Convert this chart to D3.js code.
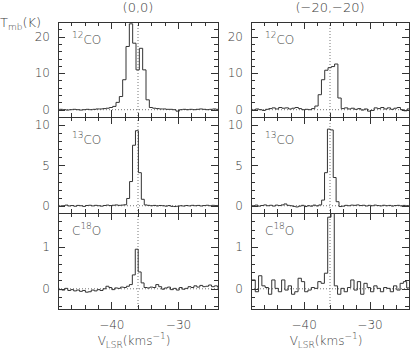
<!DOCTYPE html>
<html>
<head>
<meta charset="utf-8">
<script src="https://cdn.jsdelivr.net/npm/d3@7"></script>
<style>
  html, body { margin: 0; padding: 0; background: #fff; }
  svg { display: block; }
</style>
</head>
<body>
<div id="chart"></div>
<script>
// ---- data -----------------------------------------------------------------
// velocity axis (km/s) and the systemic velocity marked by the dotted line
var velDomain = [-48, -24];
var velMajor = [-40, -30];
var systemicVel = -36;

var positionLabels = ["(0,0)", "(\u221220,\u221220)"];
// species label parts: [before, superscript, after]
var speciesLabels = [["", "12", "CO"], ["", "13", "CO"], ["C", "18", "O"]];

var rowDomains = [[-2, 24], [-0.9, 11], [-0.48, 1.8]];
var rowMajorTicks = [[0, 10, 20], [0, 5, 10], [0, 1]];
var rowMinorStep = [2, 1, 0.2];

// channel start velocity and width per spectrum [col][row]
var chanStart = [[-48.3, -48.26, -48.29], [-48.3, -48.27, -48.35]];
var chanWidth = [[0.5, 0.44, 0.44], [0.5, 0.44, 0.5]];

// Tmb (K) per channel, position (0,0)
var co12_00 = [0.0, 0.1, 0.0, -0.1, 0.0, 0.1, 0.0, -0.1, 0.0, 0.1, 0.0, 0.1, 0.2,
  0.2, 0.3, 0.4, 0.6, 0.9, 2.0,
  3.6, 8.2, 17.3, 23.5, 18.2, 10.9, 16.8, 10.9, 2.7, 0.6,
  0.4, 0.3, 0.2, 0.2, 0.1, 0.1, 0.0, -0.4, 0.0, 0.1, 0.0, 0.1, 0.0, 0.1, 0.2, 0.1, 0.0, 0.1, 0.2, 0.1];
var co13_00 = [0.05, -0.05, 0.0, 0.08, -0.03, 0.02, -0.06, 0.04, 0.0, -0.08, 0.03, 0.06,
  -0.02, 0.05, 0.0, -0.05, 0.03, 0.08, 0.02, 0.06, 0.1, 0.05, 0.08, 0.12,
  0.9, 3.0, 7.5, 9.3, 4.1, 0.8,
  0.1, 0.05, 0.0, 0.04, -0.02, 0.03, 0.0, -0.05, 0.02, -0.08, -0.1, -0.06, 0.0,
  -0.04, 0.03, -0.02, 0.05, 0.0, 0.04, -0.03, 0.02, 0.06, 0.0, 0.05, 0.02, 0.04];
var c18o_00 = [0.02, -0.02, -0.03, 0.01, -0.04, -0.02, -0.05, -0.03, -0.06, -0.04, -0.08, -0.07, -0.03,
  -0.05, -0.02, -0.04, 0.0, 0.06, 0.03, -0.02, 0.02, 0.01, 0.04, 0.03, 0.06, 0.1,
  0.33, 0.94, 0.40, 0.14,
  0.03, 0.02, 0.04, 0.03, 0.10, 0.05, -0.01, 0.02, 0.04, -0.02, 0.01, -0.03, 0.03,
  -0.01, 0.01, 0.05, 0.03, 0.07, 0.04, 0.08, 0.05, 0.06, 0.09, 0.05, 0.07, 0.04];

// Tmb (K) per channel, position (-20,-20)
var co12_2020 = [0.1, -0.1, 0.2, 0.0, -0.2, 0.1, 0.3, 0.5, 0.2, 0.6, 0.4, 0.5, 0.2, 0.4, 0.6, 0.3, 0.0, 0.1, 0.0,
  0.3, 1.0, 4.1, 8.2, 10.8, 11.5, 11.8, 12.5, 3.2, 0.3,
  0.5, 0.2, 0.4, 0.1, 0.3, -0.1, 0.2, -0.4, -0.2, 0.5, 0.3, 0.6, 0.2, 0.5, 0.1, 0.4, 0.6, 0.0, -0.3, 0.2];
var co13_2020 = [0.05, 0.0, 0.08, -0.05, 0.03, 0.1, 0.0, 0.06, -0.04, 0.08, 0.02, 0.1, 0.22,
  0.05, 0.0, -0.08, -0.15, -0.05, 0.05, -0.1, 0.0, -0.05, 0.08, -0.02, 0.1,
  0.7, 4.1, 9.5, 9.4, 3.5, 0.5, -0.1,
  -0.05, 0.05, 0.0, 0.08, 0.05, 0.1, 0.02, 0.06, -0.03, 0.05, 0.0, 0.08,
  0.02, -0.02, 0.06, 0.0, 0.04, -0.04, 0.02, 0.05, -0.02, 0.04, 0.0, 0.03];
var c18o_2020 = [0.21, 0.21, -0.07, 0.31, 0.07, 0.03, -0.13, 0.21, 0.01, -0.07, 0.21, -0.03,
  0.07, -0.13, -0.07, 0.25, 0.17, -0.07, -0.03, 0.03, 0.01, 0.17, 0.13,
  0.37, 1.7, 2.5,
  0.07, -0.13, 0.01, -0.07, 0.03, 0.21, -0.03, 0.17, -0.13, 0.13, 0.03, -0.07,
  0.07, 0.01, -0.07, 0.03, 0.01, -0.07, 0.07, -0.03, 0.13, 0.17, 0.02];

var spectra = [[co12_00, co13_00, c18o_00], [co12_2020, co13_2020, c18o_2020]];

// ---- layout ---------------------------------------------------------------
var W = 411, H = 350;
var cols = [[58, 218], [251, 409]];
var rows = [[22, 117], [117, 213], [213, 309]];
var labelBase = [44, 144, 235];
var INK = "#333", TXT = "#3a3a3a", FONT = "'DejaVu Sans', sans-serif";

var svg = d3.select("#chart").append("svg").attr("width", W).attr("height", H)
  .attr("font-family", FONT).attr("font-weight", 200);

function styleAxis(g, showText) {
  g.select(".domain").remove();
  g.selectAll(".tick line").attr("stroke", INK).attr("shape-rendering", "crispEdges");
  g.selectAll(".tick text").attr("fill", TXT).attr("font-size", 12)
    .attr("font-family", FONT).attr("font-weight", 200);
  if (!showText) g.selectAll(".tick text").remove();
}

cols.forEach(function (cx, c) {
  var x = d3.scaleLinear().domain(velDomain).range(cx);
  var velMinor = d3.range(velDomain[0], velDomain[1] + 0.001, 2);

  rows.forEach(function (ry, r) {
    var y = d3.scaleLinear().domain(rowDomains[r]).range([ry[1], ry[0]]);
    var p = svg.append("g");
    var cid = "clip" + c + r;
    svg.append("clipPath").attr("id", cid).append("rect")
      .attr("x", cx[0]).attr("y", ry[0]).attr("width", cx[1] - cx[0]).attr("height", ry[1] - ry[0]);

    // dotted reference lines
    p.append("line").attr("x1", cx[0]).attr("x2", cx[1]).attr("y1", y(0)).attr("y2", y(0))
      .attr("stroke", "#777").attr("stroke-width", 1).attr("stroke-dasharray", "1,2");
    p.append("line").attr("x1", x(systemicVel)).attr("x2", x(systemicVel))
      .attr("y1", ry[0]).attr("y2", ry[1])
      .attr("stroke", "#777").attr("stroke-width", 1).attr("stroke-dasharray", "1,2");

    // histogram-style spectrum
    var T = spectra[c][r], v0 = chanStart[c][r], dv = chanWidth[c][r];
    var pts = T.map(function (t, k) { return [v0 + k * dv, t]; });
    pts.push([v0 + T.length * dv, T[T.length - 1]]);
    var line = d3.line().curve(d3.curveStepAfter)
      .x(function (d) { return x(d[0]); }).y(function (d) { return y(d[1]); });
    p.append("path").datum(pts).attr("d", line).attr("clip-path", "url(#" + cid + ")")
      .attr("fill", "none").attr("stroke", "#333").attr("stroke-width", 1);

    // frame
    p.append("rect").attr("x", cx[0]).attr("y", ry[0])
      .attr("width", cx[1] - cx[0]).attr("height", ry[1] - ry[0])
      .attr("fill", "none").attr("stroke", INK).attr("stroke-width", 1)
      .attr("shape-rendering", "crispEdges");

    // y ticks, both sides, inward
    var d = rowDomains[r], st = rowMinorStep[r];
    var yMinor = d3.range(Math.ceil(d[0] / st) * st, d[1] + 1e-6, st)
      .filter(function (v) { return rowMajorTicks[r].indexOf(+v.toFixed(3)) < 0; });
    p.append("g").attr("transform", "translate(" + cx[0] + ",0)")
      .call(d3.axisLeft(y).tickValues(rowMajorTicks[r]).tickFormat(d3.format("d"))
        .tickSize(-7).tickPadding(8))
      .call(styleAxis, true);
    p.append("g").attr("transform", "translate(" + cx[0] + ",0)")
      .call(d3.axisLeft(y).tickValues(yMinor).tickSize(-4)).call(styleAxis, false);
    p.append("g").attr("transform", "translate(" + cx[1] + ",0)")
      .call(d3.axisRight(y).tickValues(rowMajorTicks[r]).tickSize(-7)).call(styleAxis, false);
    p.append("g").attr("transform", "translate(" + cx[1] + ",0)")
      .call(d3.axisRight(y).tickValues(yMinor).tickSize(-4)).call(styleAxis, false);

    // x ticks, top and bottom, inward
    var xMinor = velMinor.filter(function (v) { return velMajor.indexOf(v) < 0; });
    p.append("g").attr("transform", "translate(0," + ry[0] + ")")
      .call(d3.axisTop(x).tickValues(velMajor).tickSize(-7)).call(styleAxis, false);
    p.append("g").attr("transform", "translate(0," + ry[0] + ")")
      .call(d3.axisTop(x).tickValues(xMinor).tickSize(-4)).call(styleAxis, false);
    p.append("g").attr("transform", "translate(0," + ry[1] + ")")
      .call(d3.axisBottom(x).tickValues(velMajor).tickSize(-7).tickPadding(11))
      .call(styleAxis, r === rows.length - 1);
    p.append("g").attr("transform", "translate(0," + ry[1] + ")")
      .call(d3.axisBottom(x).tickValues(xMinor).tickSize(-4)).call(styleAxis, false);

    // species label
    var sl = speciesLabels[r];
    var t = p.append("text").attr("x", cx[0] + 14).attr("y", labelBase[r])
      .attr("fill", TXT).attr("font-size", 12);
    if (sl[0]) t.append("tspan").text(sl[0]);
    t.append("tspan").attr("font-size", 9).attr("dy", -6).text(sl[1]);
    t.append("tspan").attr("dy", 6).text(sl[2]);
  });

  // position title
  svg.append("text").attr("x", (cx[0] + cx[1]) / 2).attr("y", 12)
    .attr("text-anchor", "middle").attr("fill", TXT).attr("font-size", 13)
    .text(positionLabels[c]);

  // x axis title
  var xt = svg.append("text").attr("x", (cx[0] + cx[1]) / 2 - 4).attr("y", 345)
    .attr("text-anchor", "middle").attr("fill", TXT).attr("font-size", 12);
  xt.append("tspan").text("V");
  xt.append("tspan").attr("font-size", 9).attr("dy", 3).text("LSR");
  xt.append("tspan").attr("dy", -3).text("(kms");
  xt.append("tspan").attr("font-size", 9).attr("dy", -6).text("\u22121");
  xt.append("tspan").attr("dy", 6).text(")");
});

// y axis title
var yt = svg.append("text").attr("x", 0).attr("y", 27).attr("fill", TXT).attr("font-size", 13);
yt.append("tspan").text("T");
yt.append("tspan").attr("font-size", 9).attr("dy", 3).text("mb");
yt.append("tspan").attr("dy", -3).text("(K)");
</script>
</body>
</html>
